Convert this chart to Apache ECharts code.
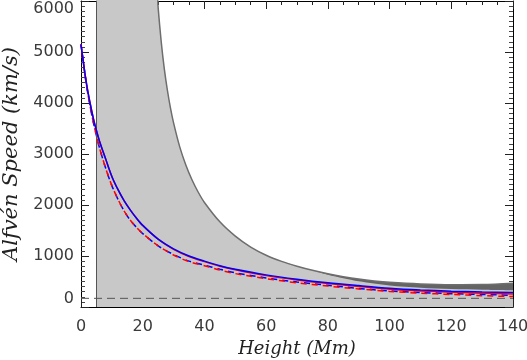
<!DOCTYPE html>
<html>
<head>
<meta charset="utf-8">
<script src="https://cdn.jsdelivr.net/npm/echarts@6/dist/echarts.min.js"></script>
<style>
  html, body { margin: 0; padding: 0; background: #fff; }
  #chart { width: 527px; height: 360px; }
</style>
</head>
<body>
<div id="chart"></div>
<script>
// Alfven speed vs height
const xTicks = [0, 20, 40, 60, 80, 100, 120, 140];
const yTicks = [0, 1000, 2000, 3000, 4000, 5000, 6000];

// grey envelope (upper boundary), starts at the vertical line x = 5
const envX = [5, 24, 25, 26, 27, 28, 29, 30, 32, 34, 36, 38, 40, 45, 50, 55, 60, 65, 70, 75, 80, 85, 90, 95, 100, 110, 120, 130, 140];
const envTop = [7000, 6700, 5870, 5200, 4670, 4250, 3900, 3610, 3140, 2780, 2490, 2250, 2050, 1670, 1390, 1175, 1015, 895, 800, 720, 652, 595, 548, 512, 485, 452, 437, 440, 465];
// inner edge of the light grey region (dark band between it and envTop at large heights)
const innerTop = [7000, 6700, 5870, 5200, 4670, 4250, 3900, 3610, 3140, 2780, 2490, 2250, 2050, 1670, 1390, 1175, 1015, 895, 800, 720, 632, 565, 505, 460, 422, 378, 352, 340, 330];
const envLeft = 5;

// horizontal dashed reference line
const refX = [0, 140];
const refY = [170, 170];

// model curves
const curveX = [0, 1, 2, 3, 4, 5, 6, 8, 10, 12, 14, 16, 18, 20, 25, 30, 35, 40, 45, 50, 60, 70, 80, 90, 100, 110, 120, 130, 140];
const blueSolid = [5150, 4700, 4300, 3980, 3700, 3460, 3250, 2900, 2560, 2300, 2080, 1900, 1740, 1600, 1330, 1140, 1000, 900, 810, 740, 630, 545, 475, 420, 370, 335, 310, 295, 285];
const redSolid = [5150, 4700, 4300, 3980, 3700, 3460, 3250, 2900, 2560, 2300, 2080, 1900, 1740, 1600, 1330, 1130, 990, 890, 800, 730, 615, 530, 460, 400, 350, 315, 290, 270, 255];
const blueDash = [5150, 4680, 4260, 3920, 3620, 3360, 3120, 2720, 2380, 2110, 1880, 1700, 1560, 1440, 1200, 1030, 900, 820, 740, 670, 570, 490, 425, 365, 315, 285, 262, 245, 230];
const redDash = [5150, 4680, 4260, 3920, 3620, 3360, 3120, 2720, 2380, 2110, 1880, 1700, 1560, 1440, 1200, 1020, 890, 810, 725, 655, 555, 475, 410, 355, 305, 272, 245, 222, 205];

const pairs = (xs, ys) => xs.map((x, i) => [x, ys[i]]);

const chart = echarts.init(document.getElementById('chart'));

const labelFont = {fontFamily: 'DejaVu Sans', fontSize: 16, color: '#3a3a3a'};
const nameFont = {fontFamily: 'DejaVu Serif', fontStyle: 'italic', fontSize: 18, color: '#222'};

function xAxisOf(pos, showLabel) {
    return {
        type: 'value', position: pos, min: 0, max: 140, interval: 20,
        axisLine: {show: true, onZero: false, lineStyle: {color: '#000', width: 1}},
        axisTick: {show: true, inside: true, length: 8, lineStyle: {color: '#222'}},
        minorTick: {show: true, splitNumber: 4, length: 4, lineStyle: {color: '#222'}},
        splitLine: {show: false},
        axisLabel: Object.assign({show: showLabel, margin: 12, formatter: v => String(v)}, labelFont),
        name: showLabel ? 'Height (Mm)' : '',
        nameLocation: 'middle', nameGap: 31,
        nameTextStyle: nameFont
    };
}

function yAxisOf(pos, showLabel) {
    return {
        type: 'value', position: pos, min: 0, max: 6000, interval: 1000,
        axisLine: {show: true, onZero: false, lineStyle: {color: '#000', width: 1}},
        axisTick: {show: true, inside: true, length: 8, lineStyle: {color: '#222'}},
        minorTick: {show: true, splitNumber: 10, length: 4, lineStyle: {color: '#444'}},
        splitLine: {show: false},
        axisLabel: Object.assign({
            show: showLabel, margin: 7, formatter: v => String(v),
            verticalAlignMinLabel: 'bottom', verticalAlignMaxLabel: 'top'
        }, labelFont),
        name: showLabel ? 'Alfvén Speed (km/s)' : '',
        nameLocation: 'middle', nameGap: 48,
        nameTextStyle: Object.assign({}, nameFont, {fontSize: 21})
    };
}

chart.setOption({
    animation: false,
    backgroundColor: '#fff',
    grid: {left: 81, right: 14, top: 1, bottom: 53, containLabel: false, outerBoundsMode: 'none'},
    xAxis: [xAxisOf('bottom', true), xAxisOf('top', false)],
    yAxis: [yAxisOf('left', true), yAxisOf('right', false)],
    series: [
        {
            name: 'outer', type: 'line', data: pairs(envX, envTop),
            symbol: 'none', z: 1, smooth: 0.3,
            lineStyle: {opacity: 0},
            areaStyle: {color: '#646464', opacity: 1}
        },
        {
            name: 'inner', type: 'line', data: pairs(envX, innerTop),
            symbol: 'none', z: 1, smooth: 0.3,
            lineStyle: {opacity: 0},
            areaStyle: {color: '#c8c8c8', opacity: 1}
        },
        {
            name: 'edge', type: 'line', data: pairs(envX, envTop),
            symbol: 'none', z: 2, smooth: 0.3,
            lineStyle: {color: '#6e6e6e', width: 1.5},
            markLine: {
                silent: true, symbol: 'none', label: {show: false},
                lineStyle: {color: '#555', width: 1, type: 'solid'},
                data: [{xAxis: envLeft}]
            }
        },
        {
            name: 'ref', type: 'line', data: pairs(refX, refY), symbol: 'none', z: 3,
            lineStyle: {color: '#555', width: 1, type: [8, 5]}
        },
        {
            name: 'blueDash', type: 'line', data: pairs(curveX, blueDash), symbol: 'none', smooth: 0.3, z: 4,
            lineStyle: {color: '#0000ff', width: 1.5, type: [6, 5]}
        },
        {
            name: 'redDash', type: 'line', data: pairs(curveX, redDash), symbol: 'none', smooth: 0.3, z: 4,
            lineStyle: {color: '#ff0000', width: 1.5, type: [6, 5], dashOffset: 3}
        },
        {
            name: 'redSolid', type: 'line', data: pairs(curveX, redSolid), symbol: 'none', smooth: 0.3, z: 5,
            lineStyle: {color: '#ff0000', width: 1.5}
        },
        {
            name: 'blueSolid', type: 'line', data: pairs(curveX, blueSolid), symbol: 'none', smooth: 0.3, z: 6,
            lineStyle: {color: '#0000ff', width: 1.5}
        }
    ]
});
</script>
</body>
</html>
